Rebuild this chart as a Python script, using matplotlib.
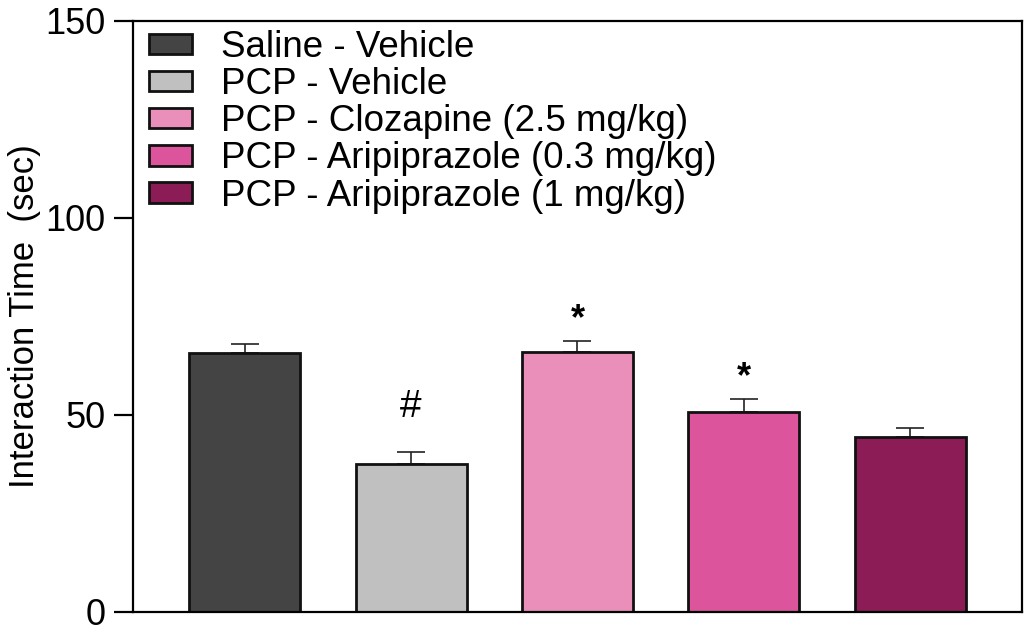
import matplotlib
matplotlib.use("Agg")
import matplotlib.pyplot as plt

plt.rcParams['font.family'] = ['Liberation Sans', 'DejaVu Sans']

# data
groups = ['Saline - Vehicle', 'PCP - Vehicle', 'PCP - Clozapine (2.5 mg/kg)',
          'PCP - Aripiprazole (0.3 mg/kg)', 'PCP - Aripiprazole (1 mg/kg)']
means = [65.6, 37.5, 65.8, 50.7, 44.4]
sem = [2.3, 3.0, 2.9, 3.2, 2.3]
marks = ['', '#', '*', '*', '']
colors = ['#444444', '#c0c0c0', '#e98fb9', '#dc549c', '#8b1c56']

fig = plt.figure(figsize=(10.24, 6.37), dpi=100)
ax = fig.add_axes([0.1299, 0.0397, 0.8681, 0.9278])

x = range(len(means))
bars = ax.bar(x, means, width=0.667, color=colors, edgecolor='#111111',
              linewidth=2.0, zorder=2)
ax.errorbar(x, means, yerr=[[0] * len(sem), sem], fmt='none', ecolor='#222222',
            elinewidth=1.2, capsize=10, capthick=1.2, zorder=1)

for i, m in enumerate(marks):
    if m == '#':
        ax.text(i, means[i] + sem[i] + 11.5, m, ha='center', va='center', fontsize=28)
    elif m == '*':
        ax.text(i, means[i] + sem[i] + 5.5, m, ha='center', va='center', fontsize=26,
                fontweight='bold')

for b, g in zip(bars, groups):
    b.set_label(g)

ax.set_xlim(-0.67, 4.67)
ax.set_ylim(0, 150)
ax.set_yticks([0, 50, 100, 150])
ax.set_xticks([])
ax.tick_params(axis='y', length=14, width=1.6, pad=6, labelsize=26)
for s in ax.spines.values():
    s.set_linewidth(1.6)
ax.set_ylabel('Interaction Time  (sec)', fontsize=25, labelpad=3)

leg = ax.legend(loc='upper left', bbox_to_anchor=(0.01, 0.997), fontsize=26.5,
                frameon=False, handlelength=1.17, handleheight=0.48,
                handletextpad=0.78, labelspacing=0.06,
                borderaxespad=0.1, borderpad=0.1)

fig.savefig('out.png', dpi=100)
